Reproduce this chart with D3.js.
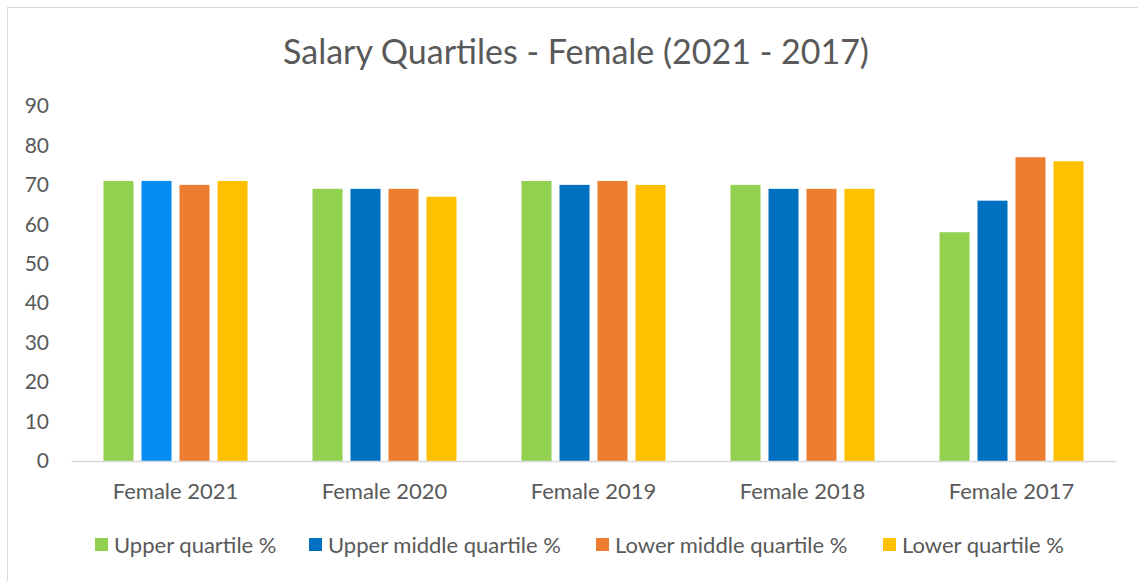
<!DOCTYPE html>
<html>
<head>
<meta charset="utf-8">
<script src="https://cdn.jsdelivr.net/npm/d3@7"></script>
<style>
  body { margin: 0; background: #fff; }
  text { font-family: Lato, "Open Sans", sans-serif; fill: #595959; }
</style>
</head>
<body>
<div id="chart"></div>
<script>
var categories = ["Female 2021", "Female 2020", "Female 2019", "Female 2018", "Female 2017"];
var seriesNames = ["Upper quartile %", "Upper middle quartile %", "Lower middle quartile %", "Lower quartile %"];
var upperQuartile = [71, 69, 71, 70, 58];
var upperMiddleQuartile = [71, 69, 70, 69, 66];
var lowerMiddleQuartile = [70, 69, 71, 69, 77];
var lowerQuartile = [71, 67, 70, 69, 76];
var yTicks = [0, 10, 20, 30, 40, 50, 60, 70, 80, 90];

var colors = ["#92D050", "#0070C0", "#ED7D31", "#FFC000"];
// the first upper-middle bar is drawn in a lighter blue in the original
var highlight = { series: 1, category: 0, color: "#058CF0" };

var W = 1138, H = 581;
var margin = { left: 71, right: 22, top: 106, bottom: 120 };

var svg = d3.select("#chart").append("svg")
    .attr("width", W)
    .attr("height", H);

// chart frame
svg.append("rect")
    .attr("x", 7.5).attr("y", 7.5)
    .attr("width", W + 10).attr("height", H + 10)
    .attr("fill", "#fff")
    .attr("stroke", "#d9d9d9");

svg.append("text")
    .attr("x", 576).attr("y", 64)
    .attr("text-anchor", "middle")
    .style("font-size", "34px")
    .text("Salary Quartiles - Female (2021 - 2017)");

var values = [upperQuartile, upperMiddleQuartile, lowerMiddleQuartile, lowerQuartile];
var rows = categories.map(function(c, i) {
    return { cat: c, i: i, vals: values.map(function(v, s) { return { s: s, v: v[i] }; }) };
});

var x0 = d3.scaleBand()
    .domain(categories)
    .range([margin.left, W - margin.right]);

var bw = x0.bandwidth();
var x1 = d3.scaleBand()
    .domain(d3.range(seriesNames.length))
    .range([(bw - 144) / 2, (bw + 144) / 2])
    .paddingInner(0.21);

var y = d3.scaleLinear()
    .domain([0, 90])
    .range([H - margin.bottom, margin.top]);

var yAxis = d3.axisLeft(y).tickValues(yTicks).tickSize(0).tickPadding(22);
var gy = svg.append("g")
    .attr("transform", "translate(" + margin.left + ",0)")
    .call(yAxis);
gy.select(".domain").remove();
gy.selectAll("text").style("font-size", "21px").attr("fill", "#595959");

var groups = svg.selectAll("g.cat")
    .data(rows)
    .enter().append("g")
    .attr("class", "cat")
    .attr("transform", function(d) { return "translate(" + x0(d.cat) + ",0)"; });

groups.selectAll("rect")
    .data(function(d) { return d.vals.map(function(o) { return { s: o.s, v: o.v, c: d.i }; }); })
    .enter().append("rect")
    .attr("x", function(d) { return x1(d.s); })
    .attr("width", x1.bandwidth())
    .attr("y", function(d) { return y(d.v); })
    .attr("height", function(d) { return y(0) - y(d.v); })
    .attr("fill", function(d) {
        if (d.s === highlight.series && d.c === highlight.category) return highlight.color;
        return colors[d.s];
    });

var xAxis = d3.axisBottom(x0).tickSize(0).tickPadding(22);
var gx = svg.append("g")
    .attr("transform", "translate(0," + y(0) + ")")
    .call(xAxis);
gx.select(".domain").attr("stroke", "#d9d9d9").attr("stroke-width", 1.5);
gx.selectAll("text").style("font-size", "22px").attr("fill", "#595959");

// legend
var legendX = [95, 309, 596, 883];
var legend = svg.selectAll("g.legend")
    .data(seriesNames)
    .enter().append("g")
    .attr("class", "legend")
    .attr("transform", function(d, i) { return "translate(" + legendX[i] + ",538)"; });
legend.append("rect")
    .attr("width", 13).attr("height", 13)
    .attr("fill", function(d, i) { return colors[i]; });
legend.append("text")
    .attr("x", 19).attr("y", 7)
    .attr("dy", "0.35em")
    .style("font-size", "22px")
    .text(function(d) { return d; });
</script>
</body>
</html>
